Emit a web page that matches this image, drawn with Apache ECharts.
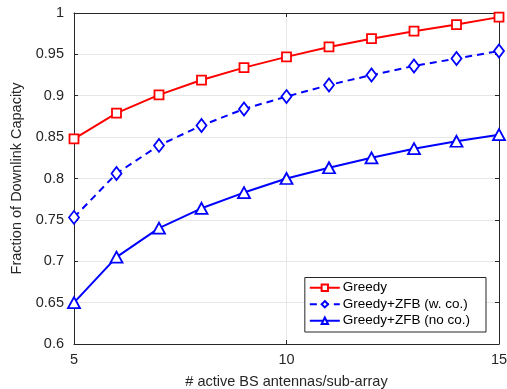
<!DOCTYPE html>
<html>
<head>
<meta charset="utf-8">
<script src="https://cdn.jsdelivr.net/npm/echarts@6/dist/echarts.min.js"></script>
<style>
  html, body { margin: 0; padding: 0; background: #fff; }
  #chart { width: 507px; height: 389px; }
</style>
</head>
<body>
<div id="chart"></div>
<script>
// Number of active BS antennas per sub-array
const antennas = [5, 6, 7, 8, 9, 10, 11, 12, 13, 14, 15];
// Fraction of downlink capacity for each scheme
const greedy      = [0.848, 0.879, 0.901, 0.919, 0.934, 0.947, 0.959, 0.969, 0.978, 0.986, 0.995];
const zfbWithCo   = [0.753, 0.806, 0.840, 0.864, 0.884, 0.899, 0.913, 0.925, 0.936, 0.945, 0.954];
const zfbNoCo     = [0.650, 0.705, 0.740, 0.764, 0.783, 0.800, 0.813, 0.825, 0.836, 0.845, 0.853];
const yTicks      = [0.6, 0.65, 0.7, 0.75, 0.8, 0.85, 0.9, 0.95, 1];

const FONT = '"Liberation Sans", Arial, sans-serif';
const AXIS_COLOR = '#262626';

function pairs(vals) { return antennas.map((x, i) => [x, vals[i]]); }

const chart = echarts.init(document.getElementById('chart'), null, { renderer: 'canvas' });

const baseX = {
  type: 'value', min: 5, max: 15, interval: 5,
  axisLine: { show: true, onZero: false, lineStyle: { color: AXIS_COLOR, width: 1 } },
  axisTick: { show: true, inside: true, length: 4, lineStyle: { color: AXIS_COLOR } },
  splitLine: { show: false }
};
const baseY = {
  type: 'value', min: 0.6, max: 1, interval: 0.05,
  axisLine: { show: true, onZero: false, lineStyle: { color: AXIS_COLOR, width: 1 } },
  axisTick: { show: true, inside: true, length: 4, lineStyle: { color: AXIS_COLOR } },
  splitLine: { show: false }
};

chart.setOption({
  animation: false,
  backgroundColor: '#fff',
  textStyle: { fontFamily: FONT },
  grid: { left: 74, top: 13, right: 8, bottom: 45, containLabel: false, outerBoundsMode: 'none' },
  xAxis: [
    Object.assign({}, baseX, {
      position: 'bottom',
      name: '# active BS antennas/sub-array',
      nameLocation: 'middle', nameGap: 30,
      nameTextStyle: { color: AXIS_COLOR, fontSize: 14.5, fontFamily: FONT },
      axisLabel: { color: AXIS_COLOR, fontSize: 14.5, margin: 8, fontFamily: FONT,
                   formatter: v => String(v) },
      splitLine: { show: true, lineStyle: { color: '#e6e6e6', width: 1 } }
    }),
    Object.assign({}, baseX, { position: 'top', axisLabel: { show: false } })
  ],
  yAxis: [
    Object.assign({}, baseY, {
      position: 'left',
      name: 'Fraction of Downlink Capacity',
      nameLocation: 'middle', nameGap: 44,
      nameTextStyle: { color: AXIS_COLOR, fontSize: 14.5, fontFamily: FONT },
      axisLabel: { color: AXIS_COLOR, fontSize: 14.5, margin: 10, fontFamily: FONT,
                   formatter: v => {
                     const t = yTicks.find(t => Math.abs(t - v) < 1e-9);
                     return t === undefined ? '' : String(t);
                   } },
      splitLine: { show: true, lineStyle: { color: '#e6e6e6', width: 1 } }
    }),
    Object.assign({}, baseY, { position: 'right', axisLabel: { show: false } })
  ],
  legend: {
    orient: 'vertical',
    right: 21, bottom: 57,
    padding: [2, 16, 3, 4],
    itemGap: 0,
    itemWidth: 30, itemHeight: 8,
    borderColor: AXIS_COLOR, borderWidth: 1,
    backgroundColor: '#fff',
    textStyle: { color: '#000', fontSize: 13.5, lineHeight: 16.5, fontFamily: FONT, padding: [0, 0, 0, -2] },
    data: ['Greedy', 'Greedy+ZFB (w. co.)', 'Greedy+ZFB (no co.)']
  },
  series: [
    {
      name: 'Greedy', type: 'line', data: pairs(greedy),
      symbol: 'rect', symbolSize: 9, showAllSymbol: true,
      lineStyle: { color: '#ff0000', width: 2 },
      itemStyle: { color: '#fff', borderColor: '#ff0000', borderWidth: 1.8 },
      z: 3
    },
    {
      name: 'Greedy+ZFB (w. co.)', type: 'line', data: pairs(zfbWithCo),
      symbol: 'diamond', symbolSize: [10, 13], showAllSymbol: true,
      lineStyle: { color: '#0000ff', width: 2, type: [7, 5] },
      itemStyle: { color: '#fff', borderColor: '#0000ff', borderWidth: 1.8 },
      z: 3
    },
    {
      name: 'Greedy+ZFB (no co.)', type: 'line', data: pairs(zfbNoCo),
      symbol: 'triangle', symbolSize: [12, 11], showAllSymbol: true,
      lineStyle: { color: '#0000ff', width: 2 },
      itemStyle: { color: '#fff', borderColor: '#0000ff', borderWidth: 1.8 },
      z: 3
    }
  ]
});
</script>
</body>
</html>
